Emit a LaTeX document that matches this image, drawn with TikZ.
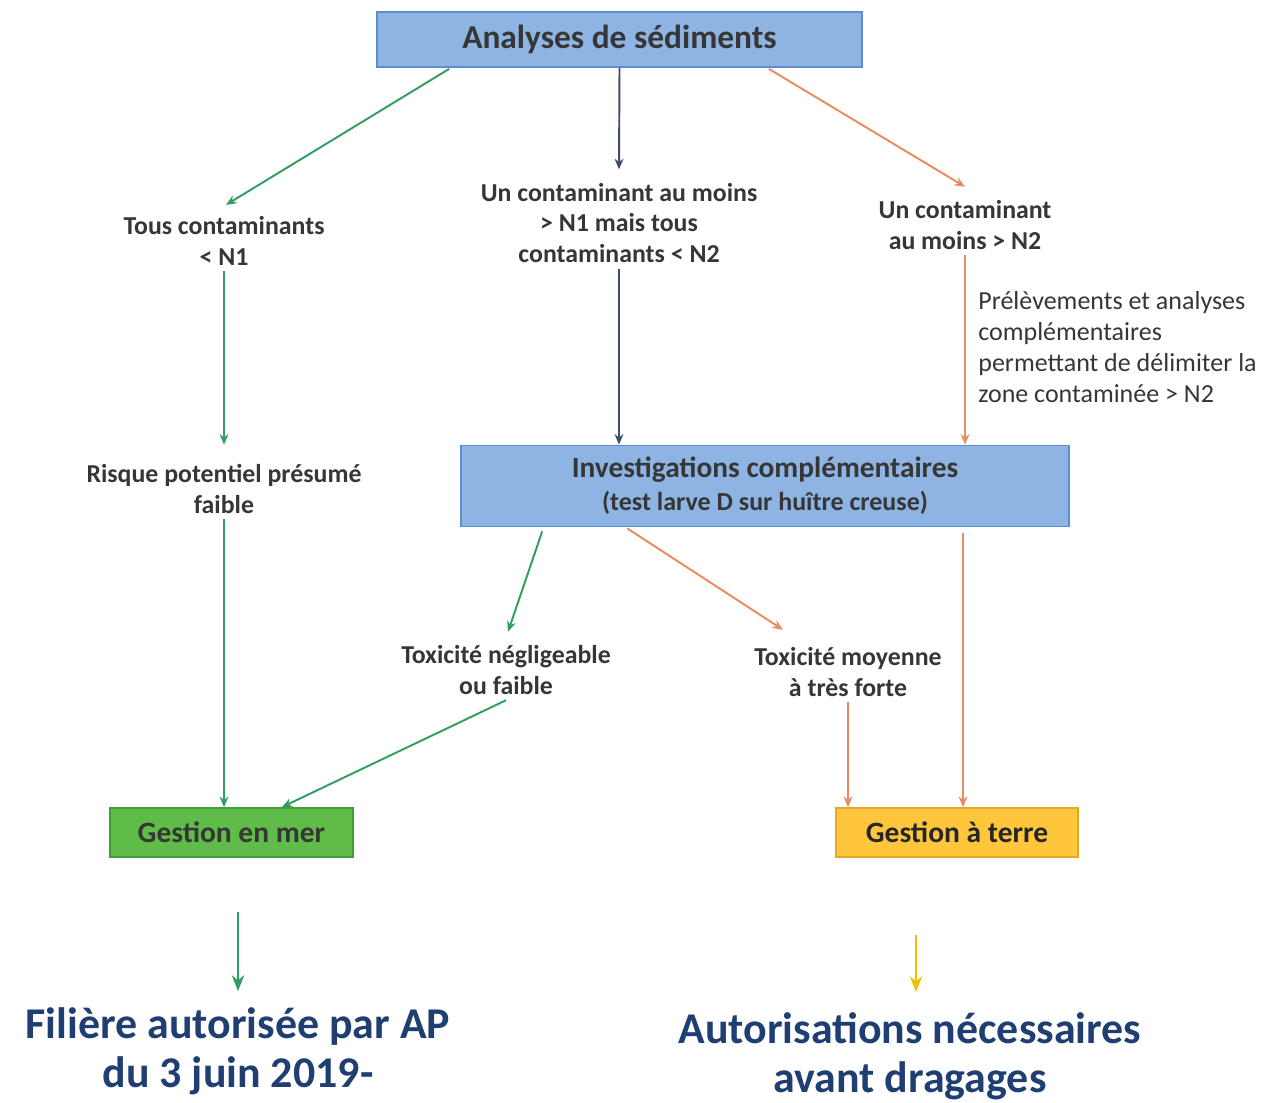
\documentclass[tikz,border=0pt]{standalone}
\usepackage{fontspec}
\setmainfont{Carlito}
\usepackage{tikz}
\usetikzlibrary{calc,arrows.meta,positioning}
\definecolor{boxblue}{HTML}{8EB4E3}
\definecolor{boxblueline}{HTML}{5D8CCF}
\definecolor{merfill}{HTML}{5FBC48}
\definecolor{merline}{HTML}{3E9E3A}
\definecolor{terrefill}{HTML}{FFC63C}
\definecolor{terreline}{HTML}{E6A62C}
\definecolor{arrgreen}{HTML}{2F9E5F}
\definecolor{arrorange}{HTML}{E98B5F}
\definecolor{arrnavy}{HTML}{3D4B6D}
\definecolor{arryellow}{HTML}{F0C000}
\definecolor{txtgray}{HTML}{363636}
\definecolor{txtblue}{HTML}{1F3F73}
\tikzset{
  box/.style={draw=boxblueline,fill=boxblue,line width=1pt,text=txtgray,
    font=\bfseries,align=center,inner sep=0pt},
  lbl/.style={text=txtgray,font=\fontsize{14.7}{17.6}\selectfont\bfseries,
    align=center,inner sep=3pt},
  note/.style={text=txtgray,font=\fontsize{14.8}{17.6}\selectfont,
    align=left,inner sep=0pt,anchor=west},
  final/.style={text=txtblue,font=\fontsize{25}{27.8}\selectfont\bfseries,
    align=center,inner sep=0pt},
  every node/.style={font=\small}
}
\tikzstyle{arrow} = [line width=1.1pt,-{Stealth[length=6pt,width=5pt]}]
\tikzstyle{bigarrow} = [line width=1.6pt,-{Stealth[length=9pt,width=7pt]}]
\begin{document}
\begin{tikzpicture}[x=0.02cm,y=-0.02cm]
  \useasboundingbox (0,0) rectangle (1284,1102);
  % boxes
  \node[box,minimum width=9.7cm,minimum height=1.1cm,
    font=\fontsize{19}{22}\selectfont\bfseries] (sed) at (619.5,39.5)
    {Analyses de sédiments};
  \node[box,minimum width=12.16cm,minimum height=1.62cm] (inv) at (765,486)
    {\fontsize{16.7}{19}\selectfont Investigations complémentaires\\[4pt]
     \fontsize{14.8}{16}\selectfont (test larve D sur huître creuse)};
  \node[box,draw=merline,fill=merfill,minimum width=4.86cm,minimum height=0.98cm,
    font=\fontsize{16.8}{18}\selectfont\bfseries] (mer) at (231.5,832.5) {Gestion en mer};
  \node[box,draw=terreline,fill=terrefill,text=black!85,minimum width=4.84cm,
    minimum height=0.98cm,font=\fontsize{16.8}{18}\selectfont\bfseries]
    (terre) at (957,832.5) {Gestion à terre};
  % labels
  \node[lbl] (tous) at (224,241) {Tous contaminants\\< N1};
  \node[lbl] (mid) at (619,223) {Un contaminant au moins\\> N1 mais tous\\contaminants < N2};
  \node[lbl] (sup) at (965,225) {Un contaminant\\au moins > N2};
  \node[note] (prel) at (978,347) {Prélèvements et analyses\\complémentaires\\
    permettant de délimiter la\\zone contaminée > N2};
  \node[lbl] (risque) at (224,489) {Risque potentiel présumé\\faible};
  \node[lbl] (toxn) at (506,670) {Toxicité négligeable\\ou faible};
  \node[lbl] (toxm) at (848,672) {Toxicité moyenne\\à très forte};
  \node[final] (fil) at (238,1051) {Filière autorisée par AP\\du 3 juin 2019-};
  \node[final] (aut) at (910,1056) {Autorisations nécessaires\\avant dragages};
  \coordinate (gm) at (238,912);
  \coordinate (gt) at (916,935);
  % connectors
  \draw[arrow,arrgreen] ($(sed.south west)+(73,1)$) -- ($(tous.north)+(2,-6)$);
  \draw[arrow,arrnavy] (sed.south) -- ($(mid.north)+(0,-8)$);
  \draw[arrow,arrorange] ($(sed.south east)+(-94,1)$) -- ($(sup.north)+(0,-8)$);
  \draw[arrow,arrgreen] (tous.south) -- (tous.south |- inv.north);
  \draw[arrow,arrnavy] (mid.south) -- (mid.south |- inv.north);
  \draw[arrow,arrorange] (sup.south) -- (sup.south |- inv.north);
  \draw[arrow,arrgreen] (risque.south) -- (risque.south |- mer.north);
  \draw[arrow,arrgreen] ($(inv.south west)+(82,4)$) -- ($(toxn.north)+(2,-8)$);
  \draw[arrow,arrorange] ($(inv.south west)+(167,1)$) -- ($(toxm.north)+(-65,-12)$);
  \draw[arrow,arrgreen] (toxn.south) -- ($(mer.north east)+(-72,0)$);
  \draw[arrow,arrorange] (toxm.south) -- (toxm.south |- terre.north);
  \draw[arrow,arrorange] ($(terre.north |- inv.south)+(6,6)$) -- ($(terre.north)+(6,0)$);
  \draw[bigarrow,arrgreen] (gm) -- ($(gm |- fil.north)+(0,-16)$);
  \draw[bigarrow,arryellow] (gt) -- ($(gt |- aut.north)+(0,-20)$);
\end{tikzpicture}
\end{document}
